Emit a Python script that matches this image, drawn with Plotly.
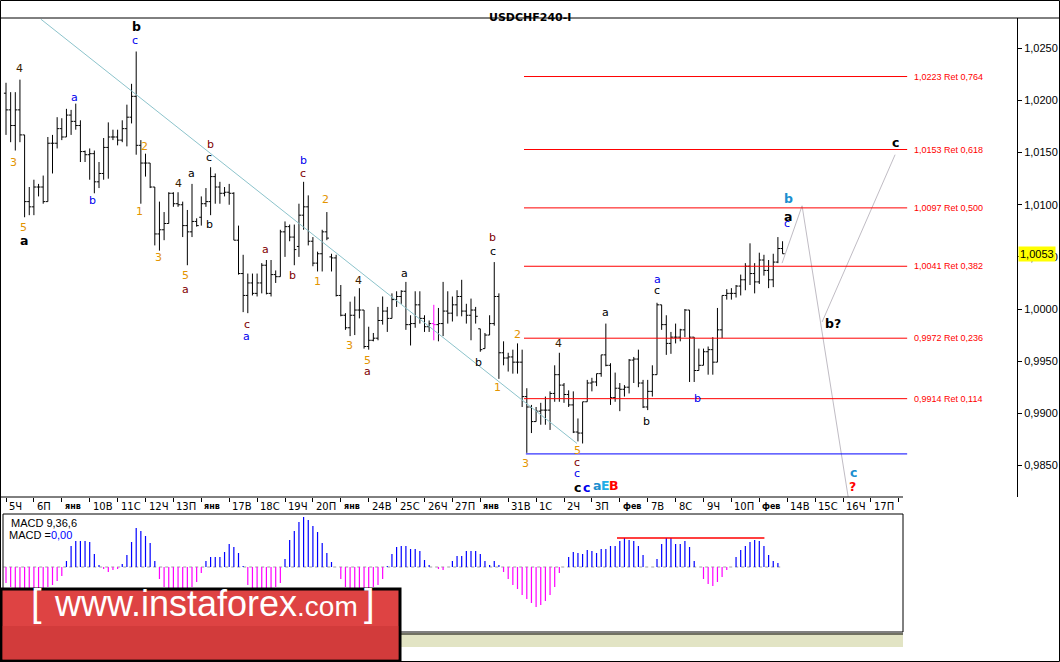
import plotly.graph_objects as go

W, H = 1060, 662

# 4H bars, oldest first (prices)
bar_open = [1.0207, 1.0191, 1.0176, 1.0191, 1.0167, 1.0103, 1.0098, 1.0117, 1.0117, 1.0103,
            1.0159, 1.0159, 1.0173, 1.0165, 1.0186, 1.0180, 1.0176, 1.0151, 1.0148, 1.0149,
            1.0122, 1.0130, 1.0155, 1.0165, 1.0165, 1.0162, 1.0173, 1.0184, 1.0204, 1.0157,
            1.0140, 1.0140, 1.0117, 1.0072, 1.0076, 1.0082, 1.0111, 1.0101, 1.0100, 1.0080,
            1.0074, 1.0084, 1.0088, 1.0101, 1.0103, 1.0127, 1.0117, 1.0111, 1.0112, 1.0111,
            1.0066, 1.0034, 1.0013, 1.0025, 1.0015, 1.0025, 1.0042, 1.0015, 1.0033, 1.0031,
            1.0074, 1.0079, 1.0069, 1.0060, 1.0090, 1.0098, 1.0065, 1.0044, 1.0053, 1.0074,
            1.0050, 1.0049, 1.0013, 0.9994, 0.9982, 0.9994, 0.9999, 0.9999, 0.9964, 0.9970,
            0.9972, 0.9989, 0.9998, 0.9991, 1.0009, 1.0012, 1.0017, 0.9985, 0.9986, 1.0004,
            0.9991, 0.9983, 0.9986, 0.9985, 0.9986, 0.9998, 0.9996, 1.0004, 1.0012, 0.9998,
            0.9994, 0.9999, 0.9981, 0.9962, 0.9975, 0.9986, 1.0012, 0.9958, 0.9953, 0.9954,
            0.9949, 0.9949, 0.9916, 0.9906, 0.9892, 0.9902, 0.9903, 0.9903, 0.9919, 0.9937,
            0.9927, 0.9918, 0.9908, 0.9882, 0.9881, 0.9911, 0.9929, 0.9930, 0.9938, 0.9956,
            0.9946, 0.9915, 0.9924, 0.9923, 0.9925, 0.9951, 0.9952, 0.9929, 0.9906, 0.9921,
            0.9937, 1.0004, 0.9985, 0.9967, 0.9973, 0.9973, 0.9980, 0.9999, 0.9973, 0.9941,
            0.9946, 0.9959, 0.9961, 0.9949, 0.9980, 1.0013, 1.0015, 1.0015, 1.0022, 1.0028,
            1.0041, 1.0034, 1.0026, 1.0047, 1.0037, 1.0028, 1.0045, 1.0058]
bar_high = [1.0217, 1.0208, 1.0208, 1.0220, 1.0167, 1.0117, 1.0124, 1.0120, 1.0128, 1.0165,
            1.0167, 1.0184, 1.0183, 1.0192, 1.0191, 1.0197, 1.0181, 1.0152, 1.0154, 1.0152,
            1.0141, 1.0164, 1.0179, 1.0172, 1.0172, 1.0181, 1.0196, 1.0216, 1.0247, 1.0162,
            1.0149, 1.0140, 1.0117, 1.0103, 1.0093, 1.0112, 1.0112, 1.0112, 1.0103, 1.0095,
            1.0120, 1.0087, 1.0108, 1.0116, 1.0136, 1.0130, 1.0122, 1.0117, 1.0120, 1.0112,
            1.0080, 1.0052, 1.0034, 1.0034, 1.0034, 1.0044, 1.0047, 1.0047, 1.0037, 1.0076,
            1.0084, 1.0081, 1.0081, 1.0101, 1.0122, 1.0109, 1.0069, 1.0055, 1.0076, 1.0093,
            1.0053, 1.0052, 1.0023, 0.9996, 1.0007, 1.0012, 1.0020, 0.9999, 0.9983, 0.9977,
            1.0002, 1.0012, 1.0002, 1.0015, 1.0017, 1.0018, 1.0026, 0.9994, 1.0017, 1.0017,
            0.9994, 0.9989, 1.0004, 1.0001, 1.0026, 1.0017, 1.0012, 1.0018, 1.0028, 1.0005,
            1.0010, 1.0002, 0.9981, 0.9977, 0.9994, 1.0045, 1.0015, 0.9969, 0.9958, 0.9961,
            0.9967, 0.9961, 0.9924, 0.9908, 0.9906, 0.9910, 0.9916, 0.9921, 0.9946, 0.9958,
            0.9929, 0.9922, 0.9921, 0.9895, 0.9911, 0.9932, 0.9934, 0.9938, 0.9956, 0.9986,
            0.9948, 0.9939, 0.9929, 0.9927, 0.9952, 0.9954, 0.9961, 0.9932, 0.9932, 0.9946,
            1.0006, 1.0004, 0.9994, 0.9978, 0.9986, 0.9981, 1.0000, 0.9999, 0.9973, 0.9962,
            0.9962, 0.9964, 0.9973, 1.0001, 1.0013, 1.0019, 1.0020, 1.0023, 1.0033, 1.0044,
            1.0063, 1.0044, 1.0054, 1.0052, 1.0047, 1.0053, 1.0069, 1.0065]
bar_low = [1.0167, 1.0160, 1.0152, 1.0160, 1.0088, 1.0090, 1.0090, 1.0108, 1.0101, 1.0103,
           1.0130, 1.0154, 1.0162, 1.0165, 1.0167, 1.0172, 1.0141, 1.0141, 1.0124, 1.0111,
           1.0116, 1.0124, 1.0125, 1.0162, 1.0157, 1.0160, 1.0156, 1.0178, 1.0148, 1.0101,
           1.0127, 1.0116, 1.0061, 1.0056, 1.0066, 1.0082, 1.0098, 1.0098, 1.0069, 1.0042,
           1.0069, 1.0079, 1.0080, 1.0098, 1.0090, 1.0101, 1.0101, 1.0108, 1.0100, 1.0066,
           1.0033, 0.9997, 0.9996, 1.0013, 1.0012, 1.0015, 1.0014, 1.0012, 1.0025, 1.0031,
           1.0050, 1.0065, 1.0042, 1.0050, 1.0076, 1.0061, 1.0041, 1.0036, 1.0036, 1.0066,
           1.0036, 1.0012, 0.9993, 0.9980, 0.9974, 0.9975, 0.9991, 0.9962, 0.9961, 0.9969,
           0.9970, 0.9985, 0.9978, 0.9991, 1.0002, 1.0005, 0.9980, 0.9965, 0.9982, 0.9986,
           0.9978, 0.9978, 0.9970, 0.9969, 0.9974, 0.9986, 0.9988, 0.9993, 0.9993, 0.9986,
           0.9970, 0.9986, 0.9959, 0.9962, 0.9975, 0.9984, 0.9933, 0.9946, 0.9940, 0.9938,
           0.9938, 0.9906, 0.9862, 0.9881, 0.9892, 0.9889, 0.9889, 0.9884, 0.9911, 0.9911,
           0.9910, 0.9906, 0.9881, 0.9873, 0.9871, 0.9911, 0.9921, 0.9926, 0.9935, 0.9945,
           0.9908, 0.9911, 0.9902, 0.9916, 0.9919, 0.9929, 0.9925, 0.9905, 0.9903, 0.9916,
           0.9937, 0.9980, 0.9956, 0.9957, 0.9967, 0.9969, 0.9973, 0.9930, 0.9930, 0.9941,
           0.9946, 0.9937, 0.9937, 0.9949, 0.9972, 1.0009, 1.0009, 1.0011, 1.0013, 1.0018,
           1.0023, 1.0015, 1.0024, 1.0032, 1.0020, 1.0021, 1.0044, 1.0053]
bar_close = [1.0191, 1.0176, 1.0191, 1.0167, 1.0103, 1.0098, 1.0117, 1.0117, 1.0103, 1.0159,
             1.0159, 1.0173, 1.0165, 1.0186, 1.0180, 1.0176, 1.0151, 1.0148, 1.0149, 1.0122,
             1.0130, 1.0155, 1.0165, 1.0165, 1.0162, 1.0173, 1.0184, 1.0204, 1.0157, 1.0140,
             1.0140, 1.0117, 1.0072, 1.0076, 1.0082, 1.0111, 1.0101, 1.0100, 1.0080, 1.0074,
             1.0084, 1.0080, 1.0101, 1.0103, 1.0127, 1.0117, 1.0111, 1.0112, 1.0111, 1.0066,
             1.0034, 1.0013, 1.0025, 1.0015, 1.0025, 1.0042, 1.0015, 1.0033, 1.0031, 1.0074,
             1.0079, 1.0069, 1.0057, 1.0090, 1.0098, 1.0065, 1.0044, 1.0053, 1.0074, 1.0068,
             1.0049, 1.0013, 0.9994, 0.9982, 0.9994, 0.9999, 0.9999, 0.9964, 0.9970, 0.9972,
             0.9989, 0.9998, 0.9991, 1.0009, 1.0012, 1.0017, 0.9985, 0.9986, 1.0004, 0.9991,
             0.9983, 0.9986, 0.9985, 0.9986, 0.9998, 0.9996, 1.0004, 1.0012, 0.9998, 0.9994,
             0.9999, 0.9993, 0.9961, 0.9975, 0.9986, 1.0012, 0.9958, 0.9953, 0.9954, 0.9949,
             0.9949, 0.9916, 0.9906, 0.9892, 0.9902, 0.9903, 0.9903, 0.9919, 0.9937, 0.9927,
             0.9918, 0.9908, 0.9882, 0.9881, 0.9911, 0.9929, 0.9930, 0.9938, 0.9956, 0.9946,
             0.9915, 0.9924, 0.9923, 0.9925, 0.9951, 0.9952, 0.9929, 0.9906, 0.9921, 0.9937,
             1.0004, 0.9985, 0.9967, 0.9973, 0.9973, 0.9980, 0.9999, 0.9973, 0.9941, 0.9946,
             0.9959, 0.9961, 0.9949, 0.9980, 1.0013, 1.0015, 1.0015, 1.0022, 1.0028, 1.0041,
             1.0034, 1.0026, 1.0047, 1.0037, 1.0028, 1.0045, 1.0058, 1.0053]
marked_bar = 92  # the one bar drawn in magenta

# MACD(9,36,6) histogram, one value per bar (chart units)
macd_hist = [-16, -20, -22, -23, -23, -23, -22, -22, -21, -20, -18, -14, -9,
             6, 21, 26, 26, 26, 25, 13, 2,
             -2, -5, -3, -2, 3,
             12, 25, 39, 36, 31, 24, 6,
             -12, -20, -22, -22, -22, -21, -21, -20, -15, -6,
             6, 10, 10, 10, 15, 23, 20, 14, 1,
             -18, -22, -22, -22, -22, -21, -20, -16,
             8, 27, 36, 45, 50, 47, 41, 35, 24, 14, 5,
             0,
             -12, -20, -22, -22, -22, -22, -21, -20, -18, -12,
             1, 13, 20, 21, 21, 18, 18, 16, 7, 2, 0,
             -2, -3, 0,
             6, 11, 11, 16, 16, 16, 13, 6, 2, 6, 2,
             -5, -12, -18, -22, -28, -32, -36, -40, -38, -34, -28, -20, -6,
             0,
             10, 15, 14, 13, 17, 16, 14, 18, 18, 21, 21, 26, 29, 27, 26, 21, 12, 0, 0, 8,
             23, 29, 29, 23, 23, 26, 20, 6,
             0,
             -12, -17, -19, -15, -10, -3,
             0,
             10, 17, 21, 25, 27, 26, 21, 12, 6, 4,
             0]
macd_peak_bars = [131.4, 163.1]
macd_peak_level = 29

day_labels = ["5Ч", "6П", "янв", "10В", "11С", "12Ч", "13П", "янв", "17В", "18С", "19Ч",
              "20П", "янв", "24В", "25С", "26Ч", "27П", "янв", "31В", "1С", "2Ч", "3П",
              "фев", "7В", "8С", "9Ч", "10П", "фев", "14В", "15С", "16Ч", "17П"]
bars_per_day = 6

price_ticks = [0.9850, 0.9900, 0.9950, 1.0000, 1.0050, 1.0100, 1.0150, 1.0200, 1.0250]
last_price = 1.0053

fib_levels = [1.0223, 1.0153, 1.0097, 1.0041, 0.9972, 0.9914]
fib_ratios = ["0,764", "0,618", "0,500", "0,382", "0,236", "0,114"]
fib_bars = [111.4, 193.8]
support_level = 0.9861
support_bars = [111.8, 193.8]

trend_bars = [7.5, 122.8]
trend_prices = [1.0278, 0.9871]

path_bars = [166.9, 171.2, 181.1]
path_prices = [1.0044, 1.0099, 0.9820]
alt_bars = [175.5, 191.2]
alt_prices = [0.99875, 1.0148]

wave_text = ["4", "3", "5", "a", "a", "b", "b", "c", "2", "1",
             "4", "a", "b", "c", "b", "3", "5", "a", "b", "c",
             "2", "a", "b", "1", "4", "3", "c", "a", "5", "a",
             "a", "b", "c", "b", "1", "2", "3", "5", "c", "c",
             "c", "c", "a", "E", "B", "4", "a", "b", "a", "c",
             "b", "b", "a", "c", "c", "b", "?", "c", "?"]
wave_bar = [2.8, 1.7, 3.7, 3.9, 14.8, 18.7, 28.0, 27.7, 29.7, 28.8,
            37.0, 39.8, 43.9, 43.7, 43.7, 32.7, 38.7, 38.7, 63.9, 63.9,
            68.8, 55.9, 61.7, 66.9, 75.7, 73.8, 51.8, 51.8, 77.8, 77.8,
            85.8, 104.7, 104.7, 101.7, 105.8, 109.9, 111.8, 122.8, 122.8, 122.8,
            122.8, 124.9, 127.1, 129.0, 130.8, 118.9, 129.0, 137.8, 140.0, 140.0,
            148.8, 168.2, 168.2, 168.0, 191.2, 177.2, 178.9, 182.2, 182.0]
wave_price = [1.0231, 1.0141, 1.0078, 1.0066, 1.0203, 1.0104, 1.0271, 1.0258, 1.0156, 1.0094,
              1.0120, 1.0130, 1.0158, 1.0145, 1.0081, 1.0049, 1.0032, 1.0019, 1.0142, 1.0130,
              1.0105, 1.0057, 1.0032, 1.0026, 1.0027, 0.9965, 0.9985, 0.9974, 0.9951, 0.9940,
              1.0034, 1.0069, 1.0055, 0.9949, 0.9925, 0.9976, 0.9852, 0.9864, 0.9853, 0.9842,
              0.9829, 0.9829, 0.9831, 0.9831, 0.9831, 0.9967, 0.9997, 0.9892, 1.0028, 1.0018,
              0.9914, 1.0106, 1.0089, 1.0082, 1.0160, 0.9986, 0.9986, 0.9843, 0.9830]
wave_kind = ["n4", "n", "n", "BLK", "blu", "blu", "BLK", "blu", "n", "n",
             "n4", "blk", "red", "blk", "blk", "n", "n", "red", "blu", "red",
             "n", "red", "red", "n", "n4", "n", "red", "blu", "n", "red",
             "blk", "red", "blk", "blk", "n", "n", "n", "n", "red", "blu",
             "BLK", "BLU", "TEAL", "CYAN", "RED", "n4", "blk", "blk", "blu", "blk",
             "blu", "TEAL", "BLK", "blu", "BLK", "BLK", "BLK", "TEAL", "RED"]

kind_style = {
    "n": ("#e39400", False), "n4": ("#3c1e00", False), "blk": ("#000000", False),
    "blu": ("#0000ee", False), "red": ("#800000", False), "BLK": ("#000000", True),
    "BLU": ("#0000ee", True), "TEAL": ("#1c8fcf", True), "CYAN": ("#22aee6", True),
    "RED": ("#ff0000", True),
}


def px(x):
    return x / W


def py(y):
    return 1 - y / H


# pixel geometry of the MT4 window
price_left, price_right, price_top, price_bottom = 3, 1017, 18, 497
macd_left, macd_right, macd_top, macd_bottom = 3, 903, 514, 632
bar0_px, bar_step = 6, 4.65
pip_px = 1.0425  # pixels per pip on the price scale

x_lo = (price_left - bar0_px) / bar_step
x_hi = (price_right - bar0_px) / bar_step
x2_hi = (macd_right - bar0_px) / bar_step
y_hi = 1 + (309 - price_top) / pip_px / 10000
y_lo = 1 + (309 - price_bottom) / pip_px / 10000

fig = go.Figure()

idx = [i for i in range(len(bar_open)) if i != marked_bar]
fig.add_trace(go.Ohlc(
    x=idx,
    open=[bar_open[i] for i in idx], high=[bar_high[i] for i in idx],
    low=[bar_low[i] for i in idx], close=[bar_close[i] for i in idx],
    increasing=dict(line=dict(color="black", width=1)),
    decreasing=dict(line=dict(color="black", width=1)),
    tickwidth=0.45, hoverinfo="skip", showlegend=False))

m = marked_bar
fig.add_trace(go.Scatter(
    x=[m, m, None, m - 0.45, m, None, m, m + 0.45],
    y=[bar_low[m], bar_high[m], None, bar_open[m], bar_open[m], None, bar_close[m], bar_close[m]],
    mode="lines", line=dict(color="#ff00ff", width=1), hoverinfo="skip", showlegend=False))

# trend line and forecast path
fig.add_trace(go.Scatter(x=trend_bars, y=trend_prices, mode="lines",
                         line=dict(color="#8cc3cb", width=1), hoverinfo="skip", showlegend=False))
fig.add_trace(go.Scatter(x=path_bars, y=path_prices, mode="lines",
                         line=dict(color="#c0bcc4", width=1), hoverinfo="skip", showlegend=False))
fig.add_trace(go.Scatter(x=alt_bars, y=alt_prices, mode="lines",
                         line=dict(color="#c0bcc4", width=1), hoverinfo="skip", showlegend=False))

# fibonacci levels
for lvl in fib_levels:
    fig.add_trace(go.Scatter(x=fib_bars, y=[lvl, lvl], mode="lines",
                             line=dict(color="#ff0000", width=1), hoverinfo="skip", showlegend=False))
fig.add_trace(go.Scatter(x=support_bars, y=[support_level, support_level], mode="lines",
                         line=dict(color="#0000ff", width=1), hoverinfo="skip", showlegend=False))

# MACD histogram
pos_x, pos_y, neg_x, neg_y = [], [], [], []
for i, v in enumerate(macd_hist):
    if v > 0:
        pos_x += [i, i, None]
        pos_y += [0, v, None]
    elif v < 0:
        neg_x += [i, i, None]
        neg_y += [0, v, None]
fig.add_trace(go.Scatter(x=[-0.6, len(macd_hist) - 1], y=[0, 0], mode="lines", xaxis="x2", yaxis="y2",
                         line=dict(color="#a0a0a0", width=1, dash="dot"), hoverinfo="skip", showlegend=False))
fig.add_trace(go.Scatter(x=pos_x, y=pos_y, mode="lines", xaxis="x2", yaxis="y2",
                         line=dict(color="#0000ff", width=1.2), hoverinfo="skip", showlegend=False))
fig.add_trace(go.Scatter(x=neg_x, y=neg_y, mode="lines", xaxis="x2", yaxis="y2",
                         line=dict(color="#ff00ff", width=1.2), hoverinfo="skip", showlegend=False))
fig.add_trace(go.Scatter(x=macd_peak_bars, y=[macd_peak_level] * 2, mode="lines", xaxis="x2", yaxis="y2",
                         line=dict(color="#ff0000", width=1.5), hoverinfo="skip", showlegend=False))

ann = []
# wave labels
for t, b, p, k in zip(wave_text, wave_bar, wave_price, wave_kind):
    col, bold = kind_style[k]
    ann.append(dict(x=b, y=p, xref="x", yref="y", text=f"<b>{t}</b>" if bold else t,
                    showarrow=False, xanchor="center", yanchor="middle",
                    font=dict(family="DejaVu Sans", size=12.5 if bold else 11, color=col)))
# fib labels
for lvl, r in zip(fib_levels, fib_ratios):
    ann.append(dict(x=fib_bars[1], y=lvl, xref="x", yref="y", xanchor="left", yanchor="middle",
                    xshift=5, showarrow=False,
                    text=f"{lvl:.4f}".replace(".", ",") + " Ret " + r,
                    font=dict(family="Liberation Sans", size=9, color="#ff0000")))
# day labels under the price panel
for i, lab in enumerate(day_labels):
    small = lab in ("янв", "фев")
    ann.append(dict(x=i * bars_per_day, y=py(506), xref="x", yref="paper", xanchor="left",
                    yanchor="middle", xshift=1, showarrow=False,
                    text=f"<b>{lab}</b>" if small else lab,
                    font=dict(family="DejaVu Sans", size=8 if small else 10, color="black")))
# last price tag
ann.append(dict(x=px(price_right), y=last_price, xref="paper", yref="y", xanchor="left",
                yanchor="middle", showarrow=False, text=f"{last_price:.4f}".replace(".", ","),
                bgcolor="#ffff00", borderpad=1, xshift=1,
                font=dict(family="Liberation Sans", size=11, color="black")))
# title and MACD captions
ann.append(dict(x=px(530), y=py(9), xref="paper", yref="paper", showarrow=False,
                text="<b>USDCHF240-I</b>", font=dict(family="DejaVu Sans", size=11, color="black")))
ann.append(dict(x=px(9), y=py(523), xref="paper", yref="paper", xanchor="left", yanchor="middle",
                showarrow=False, text="MACD 9,36,6",
                font=dict(family="Liberation Sans", size=11, color="black")))
ann.append(dict(x=px(7), y=py(535), xref="paper", yref="paper", xanchor="left", yanchor="middle",
                showarrow=False, text="MACD =<span style='color:#0000ff'>0,00</span>",
                font=dict(family="Liberation Sans", size=11, color="black")))
# instaforex badge
ann.append(dict(x=px(29), y=py(626), xref="paper", yref="paper", showarrow=False, text="[",
                font=dict(family="Liberation Sans", size=38, color="white")))
ann.append(dict(x=px(52), y=py(626), xref="paper", yref="paper", xanchor="left", showarrow=False,
                text="www.instaforex<span style='font-size:28px'>.com</span>",
                font=dict(family="Liberation Sans", size=36, color="white")))
ann.append(dict(x=px(369), y=py(626), xref="paper", yref="paper", showarrow=False, text="]",
                font=dict(family="Liberation Sans", size=38, color="white")))

shapes = [
    dict(type="rect", xref="paper", yref="paper", x0=px(0.5), x1=px(1059.5), y0=py(661.5), y1=py(0.5),
         line=dict(color="black", width=1)),
    dict(type="line", xref="paper", yref="paper", x0=0, x1=1, y0=py(18), y1=py(18),
         line=dict(color="black", width=1)),
    dict(type="line", xref="paper", yref="paper", x0=px(0), x1=px(macd_right), y0=py(price_bottom),
         y1=py(price_bottom), line=dict(color="black", width=1)),
    dict(type="rect", xref="paper", yref="paper", x0=px(400), x1=px(macd_right), y0=py(647), y1=py(633),
         fillcolor="#e2e4c4", line=dict(width=0), layer="below"),
    dict(type="line", xref="paper", yref="paper", x0=px(400), x1=px(macd_right), y0=py(634), y1=py(634),
         line=dict(color="black", width=1)),
    dict(type="rect", xref="paper", yref="paper", x0=px(macd_left), x1=px(macd_right),
         y0=py(macd_bottom), y1=py(macd_top), line=dict(color="black", width=1)),
    dict(type="rect", xref="paper", yref="paper", x0=px(1), x1=px(400), y0=py(661), y1=py(589),
         fillcolor="#de4343", line=dict(color="black", width=3), layer="above"),
    dict(type="rect", xref="paper", yref="paper", x0=px(2.5), x1=px(398.5), y0=py(659.5), y1=py(626),
         fillcolor="#c93434", line=dict(width=0), layer="above", opacity=0.55),
]

fig.update_layout(
    width=W, height=H, margin=dict(l=0, r=0, t=0, b=0),
    paper_bgcolor="white", plot_bgcolor="white", showlegend=False,
    annotations=ann, shapes=shapes,
    xaxis=dict(domain=[px(price_left), px(price_right)], range=[x_lo, x_hi], anchor="y",
               rangeslider=dict(visible=False), showgrid=False, zeroline=False, showline=False,
               tickvals=[i * bars_per_day for i in range(len(day_labels) + 1)],
               ticktext=[""] * (len(day_labels) + 1), ticks="outside", ticklen=4,
               tickcolor="black", tickwidth=1),
    yaxis=dict(domain=[py(price_bottom), py(price_top)], range=[y_lo, y_hi], side="right",
               anchor="x", showgrid=False, zeroline=False, showline=True, linecolor="black",
               linewidth=1, ticks="outside", ticklen=4, tickcolor="black", automargin=False,
               tickvals=price_ticks, ticktext=[f"{v:.4f}".replace(".", ",") for v in price_ticks],
               tickfont=dict(family="Liberation Sans", size=11, color="black")),
    xaxis2=dict(domain=[px(macd_left), px(macd_right)], range=[x_lo, x2_hi], anchor="y2",
                visible=False),
    yaxis2=dict(domain=[py(macd_bottom), py(macd_top)],
                range=[-(macd_bottom - 567), 567 - macd_top], anchor="x2", visible=False),
)

# the page body has a default 8px margin; drop it so the figure sits at the window's corner
fig.write_html("out.html", config={"displayModeBar": False},
               post_script="document.body.style.margin='0';")
